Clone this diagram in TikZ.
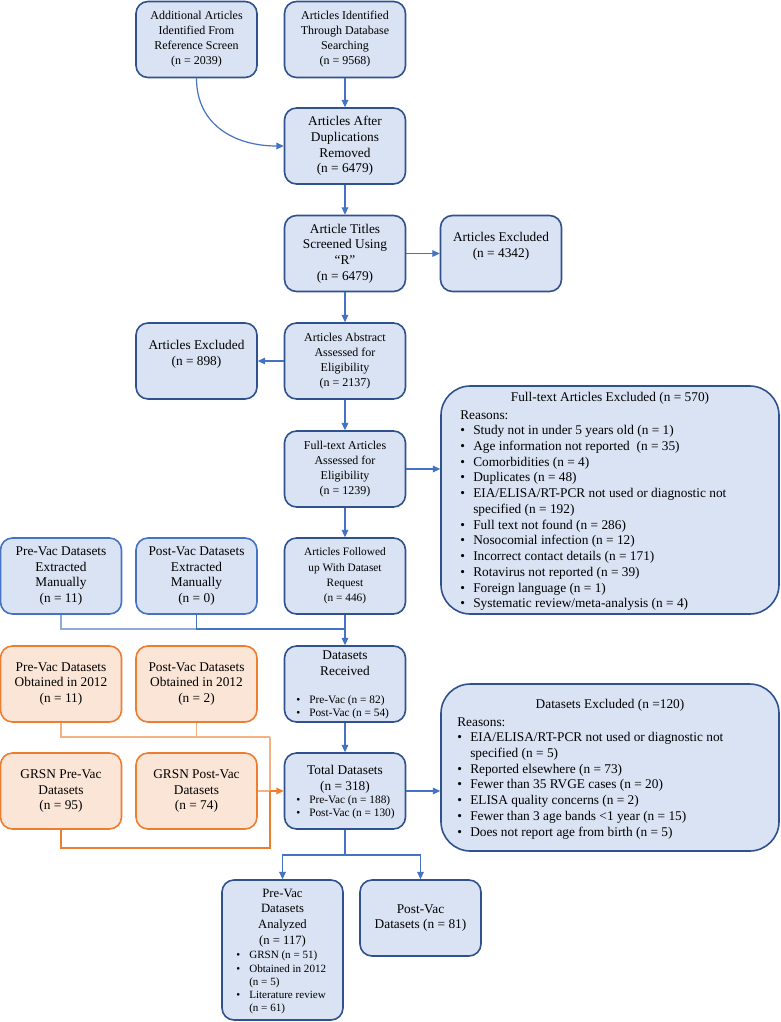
\documentclass[tikz,border=0pt]{standalone}
\usepackage{fontspec}
\setmainfont{Liberation Serif}
\usetikzlibrary{arrows.meta}
\definecolor{bfill}{HTML}{DAE3F3}
\definecolor{bdark}{HTML}{2F528F}
\definecolor{bmid}{HTML}{4472C4}
\definecolor{blight}{HTML}{8FAADC}
\definecolor{ofill}{HTML}{FBE5D6}
\definecolor{oline}{HTML}{ED7D31}
\definecolor{olight}{HTML}{F4B183}
\newcommand{\fsA}{\fontsize{9}{11.25}\selectfont}
\newcommand{\fsB}{\fontsize{10}{11.8}\selectfont}
\newcommand{\fsS}{\fontsize{8.5}{10}\selectfont}
\newcommand{\fsT}{\fontsize{8.3}{9.9}\selectfont}
\newcommand{\itm}{\makebox[9.75pt][l]{\textbullet}}
\begin{document}
\begin{tikzpicture}[x=0.75pt,y=-0.75pt,
 box/.style={draw=bdark, fill=bfill, line width=1.2pt, rounded corners=9pt, minimum width=90.75pt, minimum height=57pt, inner sep=1pt, align=center, font=\fsB},
 mbox/.style={box, draw=bmid},
 obox/.style={box, draw=oline, fill=ofill},
 bigbox/.style={box, rounded corners=22pt, minimum width=253.5pt},
 txt/.style={inner sep=0pt, align=center, font=\fsB},
 lst/.style={inner sep=0pt, align=left, anchor=north west, font=\fsB},
 arr/.style={draw=bmid, line width=0.9pt, -{Triangle[length=5.5pt,width=5pt]}},
 ln/.style={draw=bmid, line width=0.9pt},
]
\useasboundingbox (0,0) rectangle (781,1022);

\node[box,font=\fsA] (add) at (196.5,39.5) {Additional Articles\\Identified From\\Reference Screen\\(n = 2039)};
\node[box,font=\fsA] (ident) at (345,39.5) {Articles Identified\\Through Database\\Searching\\(n = 9568)};
\node[box] (dup) at (345,146) {Articles After\\Duplications\\Removed\\(n = 6479)};
\node[box] (titles) at (345,253.5) {Article Titles\\Screened Using\\“R”\\(n = 6479)};
\node[box] (ex1) at (501,253.5) {};
\node[txt] (ex1t) at (501,246.5) {Articles Excluded\\(n = 4342)};
\node[box] (ex2) at (196.5,361) {};
\node[txt] (ex2t) at (196.5,354.5) {Articles Excluded\\(n = 898)};
\node[box,font=\fsA] (abs) at (345,361) {Articles Abstract\\Assessed for\\Eligibility\\(n = 2137)};
\node[box,font=\fsA] (ftass) at (345,469) {Full-text Articles\\Assessed for\\Eligibility\\(n = 1239)};

\node[mbox] (pre1) at (61,576) {Pre-Vac Datasets\\Extracted\\Manually\\(n = 11)};
\node[mbox] (post1) at (196.5,576) {Post-Vac Datasets\\Extracted\\Manually\\(n = 0)};
\node[box,font=\fontsize{8.5}{11.6}\selectfont] (foll) at (345,576) {Articles Followed\\up With Dataset\\Request\\(n = 446)};

\node[obox] (pre2) at (61,684) {Pre-Vac Datasets\\Obtained in 2012\\(n = 11)};
\node[obox] (post2) at (196.5,684) {Post-Vac Datasets\\Obtained in 2012\\(n = 2)};
\node[box] (recv) at (345,684) {};
\node[txt] (recvt) at (345,663) {Datasets\\Received};
\node[lst,font=\fsS] (recvl) at (296,695.5) {\itm Pre-Vac (n = 82)\\ \itm Post-Vac (n = 54)};

\node[obox] (gpre) at (61,791) {GRSN Pre-Vac\\Datasets\\(n = 95)};
\node[obox] (gpost) at (196.5,791) {GRSN Post-Vac\\Datasets\\(n = 74)};
\node[box] (total) at (345,791) {};
\node[txt] (totalt) at (345,779) {Total Datasets\\(n = 318)};
\node[lst,font=\fsS] (totall) at (296,795.5) {\itm Pre-Vac (n = 188)\\ \itm Post-Vac (n = 130)};

\node[bigbox, minimum height=171pt] (ftex) at (610,500) {};
\node[txt] (ftext) at (610,398) {Full-text Articles Excluded (n = 570)};
\node[lst] (ftexl) at (460,410) {Reasons:\\
\itm Study not in under 5 years old (n = 1)\\
\itm Age information not reported\ \ (n = 35)\\
\itm Comorbidities (n = 4)\\
\itm Duplicates (n = 48)\\
\itm EIA/ELISA/RT-PCR not used or diagnostic not\\
\hspace*{9.75pt}specified (n = 192)\\
\itm Full text not found (n = 286)\\
\itm Nosocomial infection (n = 12)\\
\itm Incorrect contact details (n = 171)\\
\itm Rotavirus not reported (n = 39)\\
\itm Foreign language (n = 1)\\
\itm Systematic review/meta-analysis (n = 4)};

\node[bigbox, minimum height=125.25pt] (dex) at (610,767.5) {};
\node[txt] (dext) at (610,705) {Datasets Excluded (n =120)};
\node[lst] (dexl) at (457,717) {Reasons:\\
\itm EIA/ELISA/RT-PCR not used or diagnostic not\\
\hspace*{9.75pt}specified (n = 5)\\
\itm Reported elsewhere (n = 73)\\
\itm Fewer than 35 RVGE cases (n = 20)\\
\itm ELISA quality concerns (n = 2)\\
\itm Fewer than 3 age bands <1 year (n = 15)\\
\itm Does not report age from birth (n = 5)};

\node[box, minimum height=105pt] (ana) at (282.5,950) {};
\node[txt,font=\fontsize{9.5}{11.8}\selectfont] (anat) at (282.5,918) {Pre-Vac\\Datasets\\Analyzed\\(n = 117)};
\node[lst,font=\fsT] (anal) at (236,951) {\itm GRSN (n = 51)\\ \itm Obtained in 2012\\ \hspace*{9.75pt}(n = 5)\\ \itm Literature review\\ \hspace*{9.75pt}(n = 61)};
\node[box] (postana) at (420.5,918) {Post-Vac\\Datasets (n = 81)};

% connectors
\draw[arr] (add.south) .. controls (196.5,125) and (235,146) .. (dup.west);
\draw[arr] (ident) -- (dup);
\draw[arr] (dup) -- (titles);
\draw[arr] (titles) -- (ex1);
\draw[arr] (titles) -- (abs);
\draw[arr] (abs) -- (ex2);
\draw[arr] (abs) -- (ftass);
\draw[arr] (ftass.east) -- (ftass.east -| ftex.west);
\draw[arr] (ftass) -- (foll);

\coordinate (j1) at (345,629);
\draw[ln, draw=blight] (pre1.south) |- (post1.south |- j1);
\draw[ln] (post1.south) |- (j1);
\draw[arr] (foll) -- (recv);
\draw[arr] (recv) -- (total);

\coordinate (o1) at (270,737);
\coordinate (o2) at (270,848);
\coordinate (o3) at (270,791);
\draw[ln, draw=olight] (pre2.south) |- (o1);
\draw[ln, draw=olight] (post2.south) -- (post2.south |- o1);
\draw[ln, draw=olight] (o1) -- (o3);
\draw[ln, draw=olight] (gpost.east) -- (o3);
\draw[ln, draw=oline] (gpre.south) |- (o2) -- (o3);
\draw[arr, draw=oline] (o3) -- (total.west);

\draw[arr] (total) -- (total -| dex.west);
\coordinate (b1) at (345,855);
\draw[ln] (total.south) -- (b1);
\draw[arr] (b1) -| (ana.north);
\draw[arr] (b1) -| (postana.north);
\end{tikzpicture}
\end{document}
